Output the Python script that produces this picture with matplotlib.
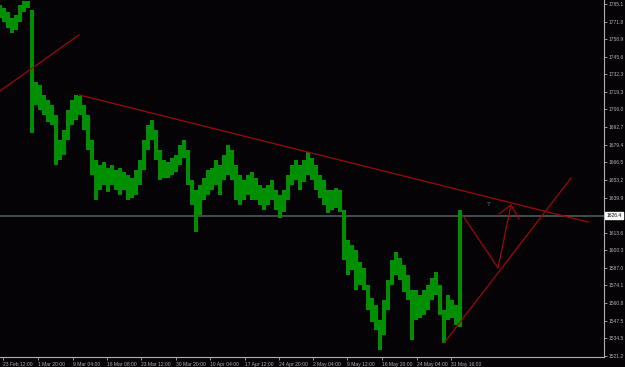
import numpy as np
import matplotlib
matplotlib.use('Agg')
import matplotlib.pyplot as plt

# bar highs / lows (every 4th bar)
highs = [1784.4, 1782.1, 1779.1, 1774.6, 1776.9, 1784.4, 1787.5, 1787.5, 1780.6, 1726.6,
         1724.4, 1716.9, 1713.1, 1709.4, 1701.9, 1683.1, 1690.6, 1705.6, 1713.1, 1716.9,
         1716.1, 1709.4, 1701.9, 1683.1, 1668.1, 1664.4, 1666.6, 1662.1, 1664.4, 1660.6,
         1662.1, 1659.1, 1656.9, 1654.6, 1660.6, 1668.1, 1683.1, 1694.4, 1698.1, 1690.6,
         1675.6, 1668.1, 1666.6, 1669.6, 1671.9, 1679.4, 1683.1, 1675.6, 1653.1, 1645.6,
         1649.4, 1654.6, 1660.6, 1662.1, 1668.1, 1664.4, 1671.9, 1679.4, 1675.6, 1664.4,
         1656.9, 1653.1, 1656.9, 1659.1, 1654.6, 1649.4, 1647.1, 1649.4, 1653.1, 1645.6,
         1641.9, 1645.6, 1656.9, 1664.4, 1668.1, 1664.4, 1668.1, 1674.1, 1669.6, 1664.4,
         1656.9, 1653.1, 1645.6, 1645.6, 1647.1, 1645.6, 1630.6, 1608.1, 1604.4, 1600.6,
         1591.6, 1587.1, 1574.4, 1564.6, 1559.4, 1548.1, 1563.1, 1578.1, 1593.1, 1599.1,
         1594.6, 1589.4, 1581.9, 1570.6, 1570.6, 1566.9, 1570.6, 1574.4, 1579.6, 1584.1,
         1574.4, 1555.6, 1566.9, 1563.1, 1559.4, 1630.6]
lows = [1774.6, 1771.6, 1767.1, 1763.4, 1765.6, 1771.6, 1779.1, 1782.1, 1688.4, 1709.4,
        1705.6, 1701.9, 1696.6, 1694.4, 1664.4, 1668.1, 1671.9, 1683.1, 1694.4, 1698.1,
        1701.9, 1690.6, 1675.6, 1656.9, 1638.1, 1645.6, 1649.4, 1644.1, 1649.4, 1645.6,
        1641.9, 1645.6, 1638.1, 1639.6, 1641.9, 1649.4, 1660.6, 1675.6, 1683.1, 1668.1,
        1653.1, 1654.6, 1654.6, 1656.9, 1659.1, 1664.4, 1669.6, 1649.4, 1634.4, 1614.1,
        1626.9, 1638.1, 1641.9, 1645.6, 1649.4, 1641.9, 1653.1, 1656.9, 1653.1, 1638.1,
        1634.4, 1638.1, 1641.9, 1638.1, 1638.1, 1634.4, 1630.6, 1634.4, 1638.1, 1630.6,
        1624.6, 1629.1, 1638.1, 1649.4, 1653.1, 1645.6, 1651.6, 1656.9, 1653.1, 1645.6,
        1639.6, 1634.4, 1628.4, 1630.6, 1632.1, 1629.1, 1593.1, 1581.9, 1585.6, 1570.6,
        1574.4, 1570.6, 1555.6, 1546.6, 1540.6, 1525.6, 1536.9, 1555.6, 1574.4, 1581.9,
        1578.1, 1569.1, 1563.1, 1533.1, 1548.1, 1549.6, 1551.9, 1555.6, 1563.1, 1566.9,
        1551.9, 1530.9, 1548.1, 1549.6, 1544.4, 1542.9]
bar_step = 4

# price axis labels
price_ticks = [1785.1, 1771.8, 1758.9, 1745.6, 1732.3, 1719.3, 1706.0, 1692.7, 1679.4,
               1666.5, 1653.2, 1639.9, 1613.6, 1600.3, 1587.0, 1574.1, 1560.8, 1547.5,
               1534.5, 1521.2]
bid = 1626.4

# time axis labels (bar positions)
date_pos = [3, 38, 73, 107, 141, 176, 210, 245, 279, 313, 347, 382, 417, 451]
date_labels = ['23 Feb 12:00', '1 Mar 20:00', '9 Mar 04:00', '16 Mar 08:00', '23 Mar 12:00',
               '30 Mar 20:00', '10 Apr 04:00', '17 Apr 12:00', '24 Apr 20:00', '2 May 04:00',
               '9 May 12:00', '16 May 20:00', '24 May 04:00', '31 May 16:00']

# drawn objects: (bar, price)
line_a = [(0, 1719.9), (79, 1761.9)]
trend = [(79, 1716.9), (588, 1621.6)]
support = [(444, 1530.9), (571, 1654.6)]
zigzag = [(463, 1626.2), (498, 1587.2), (511, 1634.4)]
arrow = [(499, 1627.7), (511, 1634.4), (519, 1623.9)]

bg = '#060306'
fg = '#b0b0b0'
green = '#008f00'
red = '#9a0a0a'
font = 'Liberation Sans'

fig = plt.figure(figsize=(6.25, 3.67), dpi=100, facecolor=bg)
ax = fig.add_axes([0, 10 / 367, 604 / 625, 357 / 367], facecolor=bg)

x = np.arange(len(highs)) * bar_step
ax.bar(x, np.array(highs) - np.array(lows), bottom=lows, width=3.6,
       color=green, linewidth=0, zorder=3)

ax.axhline(bid, color='#4a5257', lw=1.3, zorder=2)

for pts in [line_a, trend, support, zigzag, arrow]:
    xs, ys = zip(*pts)
    ax.plot(xs, ys, color=red, lw=0.9, zorder=4)

ax.text(488, 1634.5, '?', color='#808080', fontsize=4.5, ha='center', va='center',
        family=font)

ax.set_xlim(0, 604)
ax.set_ylim(1520.4, 1788.1)

for s in ['top', 'left']:
    ax.spines[s].set_visible(False)
for s in ['right', 'bottom']:
    ax.spines[s].set_color(fg)
    ax.spines[s].set_linewidth(0.8)

ax.yaxis.tick_right()
ax.set_yticks(price_ticks)
ax.set_yticklabels([f'{v:.1f}' for v in price_ticks])
ax.tick_params(axis='y', colors=fg, labelsize=3.6, length=2, width=0.6, pad=1)
ax.set_xticks(date_pos)
ax.set_xticklabels(date_labels)
ax.tick_params(axis='x', colors=fg, labelsize=3.6, length=2, width=0.6, pad=1.5)
for lbl in ax.get_xticklabels():
    lbl.set_ha('left')
    lbl.set_family(font)
for lbl in ax.get_yticklabels():
    lbl.set_family(font)

ax.text(1.004, bid, f'{bid:.1f}', transform=ax.get_yaxis_transform(), fontsize=3.6,
        color='black', va='center', ha='left', family=font,
        bbox=dict(boxstyle='square,pad=0.2', fc='white', ec='white'), clip_on=False)

fig.savefig('out.png', dpi=100, facecolor=bg)
